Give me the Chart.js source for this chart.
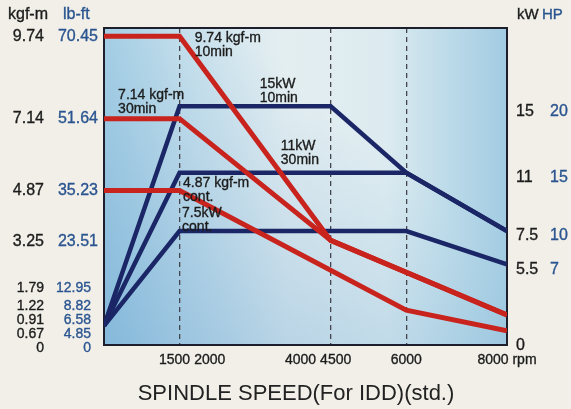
<!DOCTYPE html>
<html>
<head>
<meta charset="utf-8">
<script src="https://cdn.jsdelivr.net/npm/chart.js@4.4.1/dist/chart.umd.min.js"></script>
<style>
  html, body { margin: 0; padding: 0; background: #f1efe8; }
  canvas { display: block; }
</style>
</head>
<body>
<canvas id="spindle" width="571" height="409"></canvas>
<script>
// spindle speed (rpm) break points, shared by all curves
var rpm = [0, 1500, 4500, 6000, 8000];

// torque curves in kgf-m (null = no break point there)
var torque10min = [9.74, 9.74, 3.3, null, 0.95];
var torque30min = [7.14, 7.14, 3.3, null, 0.95];
var torqueCont  = [4.87, 4.87, null, 1.1, 0.45];

// power curves in kW
var power10min = [1.8, 15, 15, 11, 7.5];
var power30min = [1.8, 11, null, 11, 7.5];
var powerCont  = [1.8, 7.5, null, 7.5, 5.5];

// axis labels
var kgfTicks   = [9.74, 7.14, 4.87, 3.25, 1.79, 1.22, 0.91, 0.67, 0];
var lbftLabels = ['70.45', '51.64', '35.23', '23.51', '12.95', '8.82', '6.58', '4.85', '0'];
var kwTicks    = [15, 11, 7.5, 5.5, 0];
var hpLabels   = ['20', '15', '10', '7', ''];
var rpmTicks   = [1500, 2000, 4000, 4500, 6000, 8000];
var rpmLabels  = ['1500', '2000', '4000', '4500', '6000', '8000 rpm'];
var dashedRpm  = [1500, 4500, 6000];

// curve notes: two lines of text, placed at (rpm, kgf-m) of the first line
var notes = [
  ['9.74 kgf-m', '10min', 1800, 9.68],
  ['7.14 kgf-m', '30min', 280, 7.89],
  ['15kW', '10min', 3090, 8.23],
  ['11kW', '30min', 3510, 6.28],
  ['4.87 kgf-m', 'cont.', 1570, 5.11],
  ['7.5kW', 'cont.', 1550, 4.16]
];

var RED = '#c8231d', NAVY = '#1b2666';
var DARK = '#1c1c1c', BLUE = '#2b5590';
var FONT = '"Liberation Sans", Arial, sans-serif';

function points(values) {
  return rpm.map(function (r, i) { return { x: r, y: values[i] }; });
}

// slightly heavy text, like the printed original
function text(ctx, t, x, y, color) {
  ctx.fillStyle = color;
  ctx.strokeStyle = color;
  ctx.fillText(t, x, y);
  ctx.strokeText(t, x, y);
}

var chartDecor = {
  id: 'chartDecor',
  beforeDraw: function (chart) {
    var ctx = chart.ctx, a = chart.chartArea;
    ctx.save();
    var g = ctx.createLinearGradient(a.left, 0, a.right, 0);
    g.addColorStop(0, '#b0d6e8');
    g.addColorStop(0.18, '#c9e2ed');
    g.addColorStop(0.45, '#e4eef1');
    g.addColorStop(0.7, '#dcebf0');
    g.addColorStop(0.85, '#bddbe9');
    g.addColorStop(1, '#a2cbe2');
    ctx.fillStyle = g;
    ctx.fillRect(a.left, a.top, a.width, a.height);
    // bluer towards bottom left
    var g2 = ctx.createLinearGradient(a.left, a.bottom, a.left + 220, a.top + 80);
    g2.addColorStop(0, 'rgba(90,155,205,0.5)');
    g2.addColorStop(1, 'rgba(90,155,205,0)');
    ctx.fillStyle = g2;
    ctx.fillRect(a.left, a.top, a.width, a.height);
    ctx.restore();
  },
  beforeDatasetsDraw: function (chart) {
    var ctx = chart.ctx, a = chart.chartArea;
    ctx.save();
    ctx.strokeStyle = '#1d1f2c';
    ctx.lineWidth = 2;
    ctx.strokeRect(a.left, a.top, a.width, a.height);
    ctx.restore();
  },
  afterDraw: function (chart) {
    var ctx = chart.ctx, a = chart.chartArea;
    var xs = chart.scales.x, ts = chart.scales.torque, ps = chart.scales.power;
    ctx.save();
    ctx.textBaseline = 'middle';
    ctx.lineWidth = 0.35;

    // unit headings
    ctx.font = '16px ' + FONT;
    ctx.textAlign = 'left';
    text(ctx, 'kgf-m', a.left - 96, 15, DARK);
    text(ctx, 'lb-ft', a.left - 41, 15, BLUE);
    ctx.font = '15px ' + FONT;
    text(ctx, 'kW', a.right + 10, 15, DARK);
    text(ctx, 'HP', a.right + 35, 15, BLUE);

    // left columns, pushed apart where they crowd
    var prev = -Infinity;
    kgfTicks.forEach(function (v, i) {
      var big = i < 4;
      var y = Math.max(ts.getPixelForValue(v), prev + 14);
      prev = y;
      ctx.font = (big ? 16 : 14) + 'px ' + FONT;
      ctx.textAlign = 'right';
      text(ctx, v === 0 ? '0' : v.toFixed(2), a.left - 60, y, DARK);
      text(ctx, lbftLabels[i], a.left - (big ? 6 : 13), y, BLUE);
    });

    // right columns
    ctx.font = '16px ' + FONT;
    ctx.textAlign = 'left';
    kwTicks.forEach(function (v, i) {
      var y = Math.min(ps.getPixelForValue(v) + 5, a.bottom + 1);
      text(ctx, String(v), a.right + 9, y, DARK);
      text(ctx, hpLabels[i], a.right + 43, y, BLUE);
    });

    // rpm labels
    ctx.font = '14px ' + FONT;
    ctx.textAlign = 'center';
    var cx = rpmTicks.map(function (v) { return xs.getPixelForValue(v); });
    var w = rpmLabels.map(function (t) { return ctx.measureText(t).width; });
    for (var i = 0; i < cx.length - 1; i++) {
      var need = (w[i] + w[i + 1]) / 2 + 4;
      if (cx[i + 1] - cx[i] < need) {
        var mid = (cx[i] + cx[i + 1]) / 2;
        cx[i] = mid - need / 2;
        cx[i + 1] = mid + need / 2;
      }
    }
    rpmLabels.forEach(function (t, i) { text(ctx, t, cx[i], a.bottom + 15, DARK); });

    // axis title
    ctx.font = '22px ' + FONT;
    ctx.fillStyle = '#222';
    ctx.fillText('SPINDLE SPEED(For IDD)(std.)', a.left + 192, 394);

    // curve notes
    ctx.font = '14px ' + FONT;
    ctx.textAlign = 'left';
    notes.forEach(function (n) {
      var x = xs.getPixelForValue(n[2]);
      var y = ts.getPixelForValue(n[3]);
      text(ctx, n[0], x, y, DARK);
      text(ctx, n[1], x, y + 14, DARK);
    });
    ctx.restore();
  }
};

function line(values, color, width, axis) {
  return {
    data: points(values),
    borderColor: color,
    borderWidth: width,
    yAxisID: axis,
    pointRadius: 0,
    tension: 0,
    spanGaps: true,
    borderJoinStyle: 'miter',
    fill: false
  };
}

new Chart(document.getElementById('spindle').getContext('2d'), {
  type: 'line',
  data: {
    datasets: [
      line(torque10min, RED, 5, 'torque'),
      line(torque30min, RED, 5, 'torque'),
      line(torqueCont, RED, 5, 'torque'),
      line(power10min, NAVY, 4.5, 'power'),
      line(power30min, NAVY, 4.5, 'power'),
      line(powerCont, NAVY, 4.5, 'power')
    ]
  },
  options: {
    responsive: false,
    animation: false,
    events: [],
    layout: { padding: { left: 104, right: 64, top: 28, bottom: 64 } },
    plugins: { legend: { display: false }, tooltip: { enabled: false } },
    scales: {
      x: {
        type: 'linear',
        min: 0,
        max: 8000,
        afterBuildTicks: function (scale) {
          scale.ticks = rpmTicks.map(function (v) { return { value: v }; });
        },
        ticks: { display: false },
        grid: {
          drawTicks: false,
          lineWidth: 1.3,
          color: function (c) {
            return c.tick && dashedRpm.indexOf(c.tick.value) >= 0 ? '#45454d' : 'rgba(0,0,0,0)';
          }
        },
        border: { display: false, dash: [5, 4] }
      },
      torque: { type: 'linear', position: 'left', min: 0, max: 10, display: false },
      power: { type: 'linear', position: 'right', min: 0.65, max: 19.7, display: false }
    }
  },
  plugins: [chartDecor]
});
</script>
</body>
</html>
